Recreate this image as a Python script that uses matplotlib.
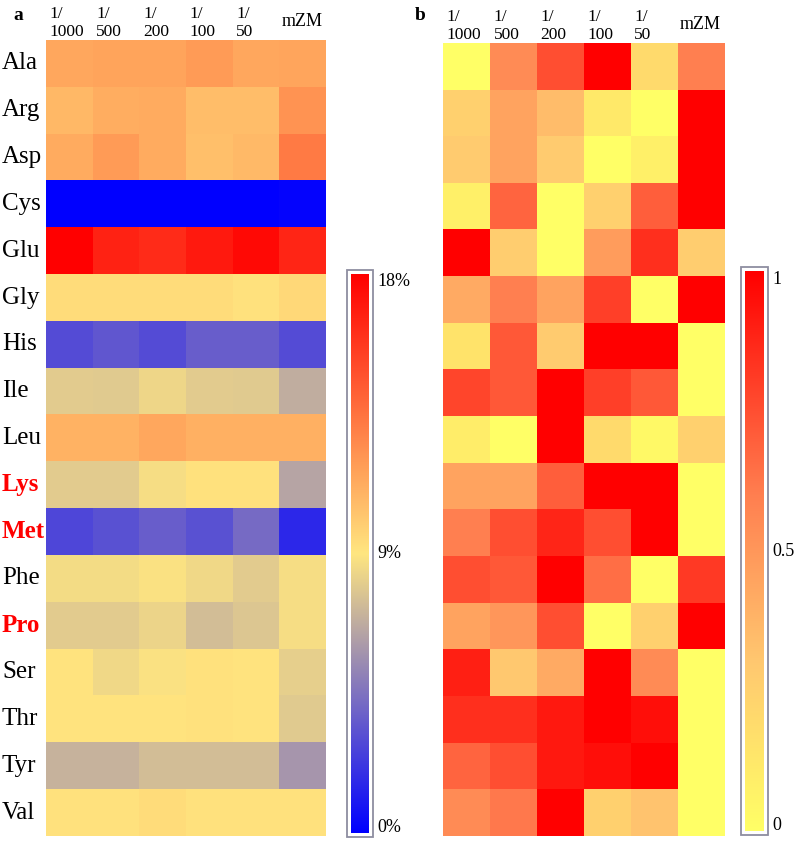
import numpy as np
import matplotlib
matplotlib.use("Agg")
import matplotlib.pyplot as plt
from matplotlib.colors import LinearSegmentedColormap
from matplotlib.patches import Rectangle

# ---------------- data ----------------
amino_acids = ["Ala", "Arg", "Asp", "Cys", "Glu", "Gly", "His", "Ile", "Leu",
               "Lys", "Met", "Phe", "Pro", "Ser", "Thr", "Tyr", "Val"]
highlight = ["Lys", "Met", "Pro"]
col_labels = ["1/\n1000", "1/\n500", "1/\n200", "1/\n100", "1/\n50", "mZM"]

# panel a: relative content (%)
pct_values = [
    [11.4, 11.6, 11.6, 11.9, 11.4, 11.5],
    [10.8, 11.2, 11.3, 10.6, 10.6, 12.2],
    [11.3, 11.9, 11.3, 10.5, 10.7, 13.2],
    [0.0, 0.0, 0.0, 0.0, 0.0, 0.2],
    [18.0, 16.6, 16.3, 17.0, 17.6, 16.5],
    [9.4, 9.4, 9.4, 9.4, 9.2, 9.5],
    [3.0, 3.4, 3.0, 3.7, 3.7, 3.0],
    [8.0, 7.9, 8.4, 8.0, 7.9, 6.8],
    [11.0, 11.0, 11.4, 11.1, 11.1, 11.1],
    [8.0, 8.0, 8.7, 9.2, 9.2, 6.4],
    [2.8, 3.2, 3.7, 3.2, 4.2, 1.6],
    [8.6, 8.6, 8.8, 8.5, 8.0, 8.7],
    [8.0, 8.0, 8.3, 7.4, 7.8, 8.7],
    [9.1, 8.5, 8.8, 9.2, 9.1, 8.1],
    [9.1, 9.1, 9.1, 9.2, 9.1, 7.9],
    [7.0, 7.0, 7.4, 7.4, 7.4, 5.9],
    [9.2, 9.2, 9.4, 9.2, 9.2, 9.2],
]

# panel b: normalized (0-1)
norm_values = [
    [0.00, 0.55, 0.75, 1.00, 0.20, 0.60],
    [0.25, 0.45, 0.35, 0.12, 0.00, 1.00],
    [0.28, 0.45, 0.28, 0.00, 0.08, 1.00],
    [0.08, 0.68, 0.00, 0.25, 0.70, 1.00],
    [1.00, 0.27, 0.00, 0.48, 0.85, 0.27],
    [0.42, 0.60, 0.45, 0.80, 0.00, 1.00],
    [0.15, 0.72, 0.28, 1.00, 1.00, 0.00],
    [0.78, 0.72, 1.00, 0.80, 0.72, 0.00],
    [0.10, 0.00, 1.00, 0.20, 0.03, 0.25],
    [0.45, 0.45, 0.70, 1.00, 1.00, 0.00],
    [0.60, 0.75, 0.88, 0.75, 1.00, 0.00],
    [0.75, 0.72, 1.00, 0.65, 0.00, 0.82],
    [0.45, 0.50, 0.75, 0.00, 0.25, 1.00],
    [0.90, 0.30, 0.42, 1.00, 0.55, 0.00],
    [0.85, 0.85, 0.92, 1.00, 0.95, 0.00],
    [0.68, 0.75, 0.92, 0.95, 1.00, 0.00],
    [0.55, 0.62, 1.00, 0.25, 0.32, 0.00],
]

pct_ticks = ["18%", "9%", "0%"]
norm_ticks = ["1", "0.5", "0"]

# ---------------- styling ----------------
serif = ["Liberation Serif", "DejaVu Serif"]
cmap_a = LinearSegmentedColormap.from_list(
    "a", [(0, "#0000FF"), (0.5, "#FFE680"), (1, "#FF0000")])
cmap_b = LinearSegmentedColormap.from_list(
    "b", [(0, "#FFFF66"), (0.3, "#FFC870"), (0.6, "#FF7F50"), (1, "#FF0000")])

W, H = 799, 842
fig = plt.figure(figsize=(W / 100, H / 100), dpi=100)


def fbox(x0, y0, x1, y1):
    return [x0 / W, 1 - y1 / H, (x1 - x0) / W, (y1 - y0) / H]


def heat(box, data, cmap, vmin, vmax):
    ax = fig.add_axes(fbox(*box))
    ax.imshow(np.array(data), cmap=cmap, vmin=vmin, vmax=vmax,
              aspect="auto", interpolation="nearest")
    ax.set_xticks([])
    ax.set_yticks([])
    for s in ax.spines.values():
        s.set_visible(False)
    return ax


ax_a = heat((46, 40, 326, 836), pct_values, cmap_a, 0, 18)
ax_b = heat((443, 43, 724, 836), norm_values, cmap_b, 0, 1)

# row labels (panel a), left aligned at the figure edge
label_x = 2 / W
for i, aa in enumerate(amino_acids):
    red = aa in highlight
    _, yfig = fig.transFigure.inverted().transform(
        ax_a.transData.transform((0, i)))
    fig.text(label_x, yfig, aa, ha="left", va="center",
             fontsize=18, family=serif,
             color="#FF0000" if red else "black",
             fontweight="bold" if red else "normal")

# column headers
for ax in (ax_a, ax_b):
    for j, lab in enumerate(col_labels):
        if lab == "mZM":
            ax.text(j, -0.72, lab, ha="center", va="bottom",
                    fontsize=13, family=serif)
        else:
            ax.text(j - 0.42, -0.5, lab, ha="left", va="bottom",
                    fontsize=12.5, family=serif, linespacing=1.2)

fig.text(13 / W, 1 - 16 / H, "a", fontsize=14, fontweight="bold",
         family=serif, ha="left", va="center")
fig.text(415 / W, 1 - 16 / H, "b", fontsize=14, fontweight="bold",
         family=serif, ha="left", va="center")


def colorbar(box, cmap, labels):
    x0, y0, x1, y1 = box
    ax = fig.add_axes(fbox(x0 + 4, y0 + 4, x1 - 4, y1 - 4))
    grad = np.linspace(1, 0, 256).reshape(-1, 1)
    ax.imshow(grad, cmap=cmap, vmin=0, vmax=1, aspect="auto")
    ax.set_xticks([])
    ax.set_yticks([])
    for s in ax.spines.values():
        s.set_visible(False)
    fig.patches.append(Rectangle((x0 / W, 1 - y1 / H), (x1 - x0) / W,
                                 (y1 - y0) / H, transform=fig.transFigure,
                                 fill=False, edgecolor="#8E8EA0", lw=1.3))
    ys = [y0 + 12, (y0 + y1) / 2, y1 - 9]
    for lab, y in zip(labels, ys):
        fig.text((x1 + 4) / W, 1 - y / H, lab, fontsize=13, family=serif,
                 ha="left", va="center")


colorbar((347, 270, 373, 837), cmap_a, pct_ticks)
colorbar((741, 267, 768, 835), cmap_b, norm_ticks)

fig.savefig("out.png", dpi=100)
